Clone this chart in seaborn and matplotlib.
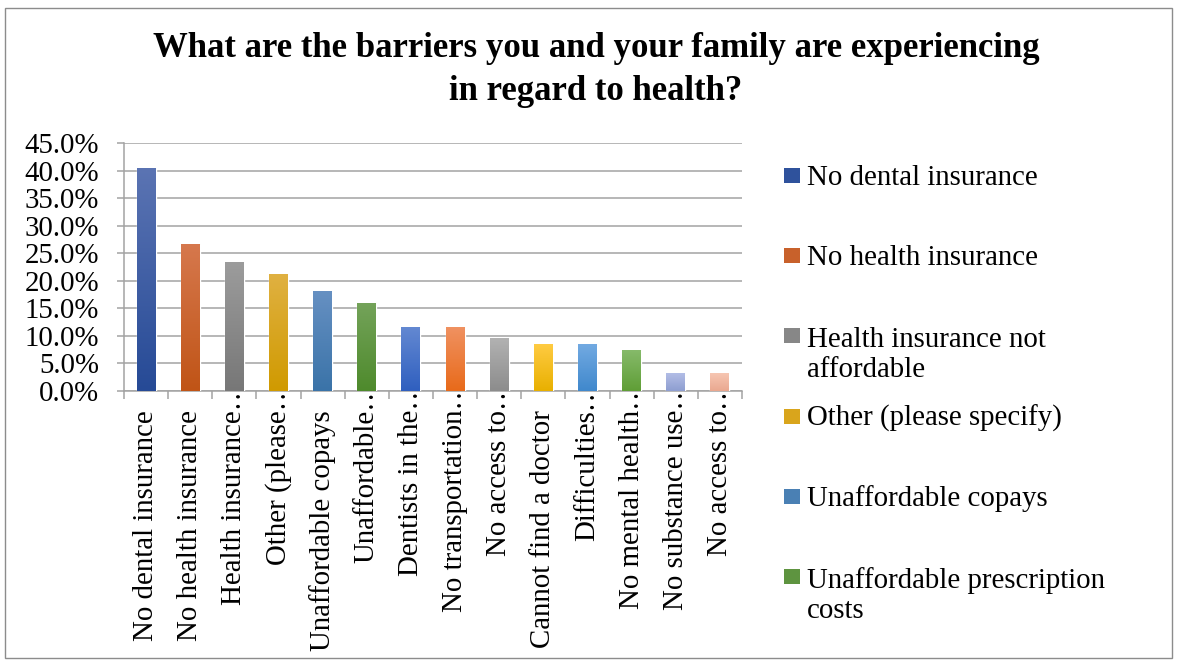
import numpy as np
import matplotlib
matplotlib.use("Agg")
import matplotlib.pyplot as plt
import seaborn as sns
from matplotlib.colors import LinearSegmentedColormap
from matplotlib.patches import Rectangle
from matplotlib.ticker import FuncFormatter, FixedLocator
from matplotlib.transforms import ScaledTranslation

# Survey answers, in the order they are plotted
tick_labels = [
    "No dental insurance", "No health insurance", "Health insurance\u2026",
    "Other (please\u2026", "Unaffordable copays", "Unaffordable\u2026",
    "Dentists in the\u2026", "No transportation\u2026", "No access to\u2026",
    "Cannot find a doctor", "Difficulties\u2026", "No mental health\u2026",
    "No substance use\u2026", "No access to\u2026",
]
# Share of respondents (%)
shares = [40.4, 26.6, 23.4, 21.3, 18.1, 16.0, 11.7, 11.7, 9.6, 8.5, 8.5, 7.4, 3.2, 3.2]

# Legend shows the first six answers only
legend_labels = [
    "No dental insurance", "No health insurance", "Health insurance not\naffordable",
    "Other (please specify)", "Unaffordable copays", "Unaffordable prescription\ncosts",
]

# Per-bar gradient: lighter at top, deeper at bottom
top_colors = ["#5b74b3", "#d6784d", "#9c9c9c", "#e0b142", "#6690c2", "#74a35a",
              "#6489d2", "#f09262", "#b2b2b2", "#ffcb42", "#72aae2", "#86ba6a",
              "#b2bde6", "#f6c6b2"]
bottom_colors = ["#264a96", "#c05416", "#777777", "#d09a00", "#3a73a8", "#4e8a2c",
                 "#2f5fbf", "#e86a1a", "#8c8c8c", "#e8b000", "#4088cc", "#5f9e36",
                 "#8e9ed0", "#eaa890"]
legend_colors = ["#2f529c", "#c8612b", "#878787", "#d9a51c", "#4a80b4", "#5e9440"]

sns.set_style("white")
plt.rcParams["font.family"] = ["Liberation Serif", "DejaVu Serif"]
plt.rcParams["text.color"] = "black"
plt.rcParams["xtick.color"] = "black"
plt.rcParams["ytick.color"] = "black"

W, H = 1178, 665
FS = 20.8
fig = plt.figure(figsize=(W / 100, H / 100), dpi=100)
ax = fig.add_axes([124 / W, 1 - 391 / H, (742 - 124) / W, (391 - 143) / H])

positions = list(range(len(shares)))
sns.barplot(x=positions, y=shares, hue=positions, palette=bottom_colors,
            legend=False, width=0.43, ax=ax, zorder=3, saturation=1)

# Vertical gradient fill clipped to each bar
bars = sorted(ax.patches, key=lambda p: p.get_x())
grad = np.linspace(0, 1, 256).reshape(-1, 1)
for patch, c_top, c_bot in zip(bars, top_colors, bottom_colors):
    x0, y0 = patch.get_x(), patch.get_y()
    w, h = patch.get_width(), patch.get_height()
    cmap = LinearSegmentedColormap.from_list("bar", [c_bot, c_top])
    im = ax.imshow(grad, cmap=cmap, origin="lower", aspect="auto",
                   extent=[x0, x0 + w, y0, y0 + h], zorder=3.5,
                   interpolation="bilinear")
    im.set_clip_path(patch)

ax.set_xlim(-0.5, len(shares) - 0.5)
ax.set_ylim(0, 45)
ax.set_aspect("auto")

grid_c = "#a3a3a3"
ax.yaxis.set_major_locator(FixedLocator(np.arange(0, 45.1, 5)))
ax.yaxis.set_major_formatter(FuncFormatter(lambda v, _: f"{v:.1f}%"))
ax.grid(axis="y", color=grid_c, linewidth=1.1, zorder=0)
ax.grid(axis="x", visible=False)
ax.tick_params(axis="y", length=5, width=1.1, color=grid_c, labelsize=FS,
               pad=13, left=True, labelcolor="black")

# Category labels: drawn at each category position below the axis;
# truncated ones let their ellipsis run up past the axis line
ax.set_xticks(positions)
ax.set_xticklabels([])
ax.tick_params(axis="x", which="major", length=0)
ax.set_xticks(np.arange(-0.5, len(shares), 1), minor=True)
ax.tick_params(axis="x", which="minor", length=6, width=1.1, color=grid_c,
               bottom=True)
xform = ax.get_xaxis_transform()
for pos, txt in zip(positions, tick_labels):
    drop = -10 if txt.endswith("\u2026") else 19
    ax.text(pos, 0, txt, rotation=90, ha="center", va="top", fontsize=FS,
            color="black",
            transform=xform + ScaledTranslation(0, -drop / 100, fig.dpi_scale_trans),
            clip_on=False)

for side in ["top", "right"]:
    ax.spines[side].set_visible(False)
for side in ["left", "bottom"]:
    ax.spines[side].set_color(grid_c)
    ax.spines[side].set_linewidth(1.1)
ax.set_xlabel("")
ax.set_ylabel("")

# Title (baseline of the last line)
fig.text(596 / W, 1 - 100 / H,
         "What are the barriers you and your family are experiencing\nin regard to health?",
         ha="center", va="baseline", fontsize=25, fontweight="bold",
         linespacing=1.4, color="black")

# Legend entries in evenly spaced slots
slot0, slot_step, line_px = 168, 80.2, 32
for i, (lab, col) in enumerate(zip(legend_labels, legend_colors)):
    top = slot0 + i * slot_step
    extra = line_px * lab.count("\n")
    fig.add_artist(Rectangle((784 / W, 1 - (top + 15) / H), 16 / W, 15 / H,
                             transform=fig.transFigure, facecolor=col,
                             edgecolor="none"))
    fig.text(807 / W, 1 - (top + 17 + extra) / H, lab, ha="left", va="baseline",
             fontsize=FS, linespacing=1.22, color="black")

# Chart border
fig.add_artist(Rectangle((5 / W, 1 - 658 / H), (1172 - 5) / W, (658 - 8) / H,
                         transform=fig.transFigure, facecolor="none",
                         edgecolor="#8c8c8c", linewidth=1.0))

fig.savefig("out.png", dpi=100)
